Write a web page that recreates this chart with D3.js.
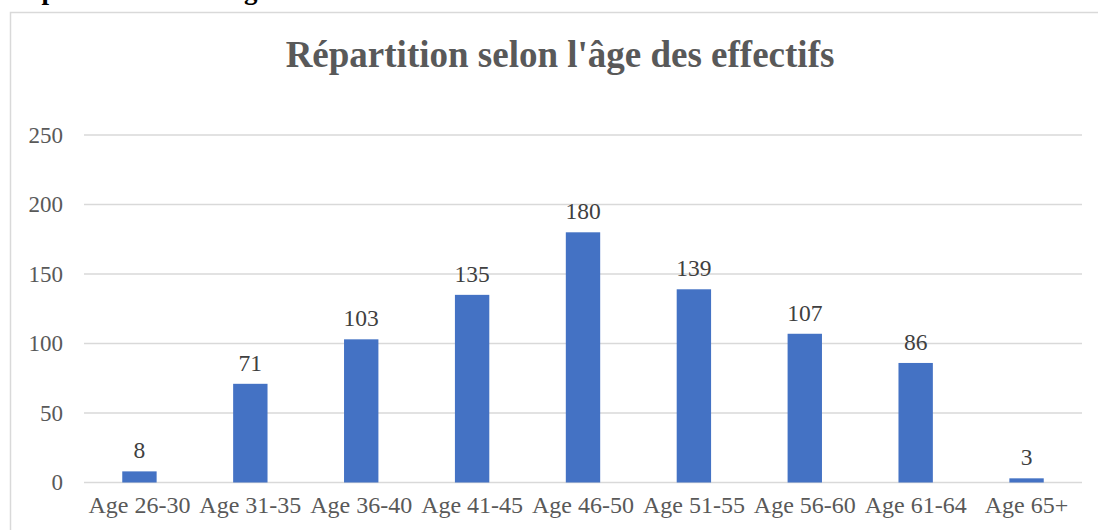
<!DOCTYPE html>
<html>
<head>
<meta charset="utf-8">
<script src="https://cdn.jsdelivr.net/npm/d3@7"></script>
<style>
  body { margin: 0; background: #fff; }
  svg { display: block; font-family: "Liberation Serif", "Times New Roman", serif; }
</style>
</head>
<body>
<div id="chart"></div>
<script>
// Data
const categories = ["Age 26-30", "Age 31-35", "Age 36-40", "Age 41-45", "Age 46-50",
                    "Age 51-55", "Age 56-60", "Age 61-64", "Age 65+"];
const values = [8, 71, 103, 135, 180, 139, 107, 86, 3];
const yTicks = [0, 50, 100, 150, 200, 250];

const width = 1098, height = 530;
const margin = { top: 135, right: 16, bottom: 47.5, left: 84 };

const svg = d3.select("#chart")
  .append("svg")
  .attr("width", width)
  .attr("height", height);

// cut-off caption line from the page above the chart
svg.append("text")
  .attr("x", 10)
  .attr("y", -1)
  .style("font-size", "27px")
  .style("font-weight", "bold")
  .style("fill", "#000")
  .text("Répartition selon l'âge");

// chart frame
svg.append("rect")
  .attr("x", 10.5)
  .attr("y", 12.5)
  .attr("width", 1100)
  .attr("height", 540)
  .attr("fill", "#fff")
  .attr("stroke", "#d9d9d9")
  .attr("stroke-width", 1.5);

svg.append("text")
  .attr("x", 560)
  .attr("y", 67)
  .attr("text-anchor", "middle")
  .style("font-size", "37px")
  .style("font-weight", "bold")
  .style("fill", "#595959")
  .text("Répartition selon l'âge des effectifs");

const x = d3.scaleBand()
  .domain(categories)
  .range([margin.left, width - margin.right])
  .paddingInner(0.69)
  .paddingOuter(0.345);

const y = d3.scaleLinear()
  .domain([0, 250])
  .range([height - margin.bottom, margin.top]);

// gridlines
svg.append("g")
  .selectAll("line")
  .data(yTicks)
  .join("line")
  .attr("x1", margin.left)
  .attr("x2", width - margin.right)
  .attr("y1", d => y(d))
  .attr("y2", d => y(d))
  .attr("stroke", "#d9d9d9")
  .attr("stroke-width", 1.5);

// y axis labels
const yAxis = svg.append("g")
  .attr("transform", "translate(" + (margin.left - 21) + ",0)")
  .call(d3.axisLeft(y).tickValues(yTicks).tickSize(0).tickPadding(0));
yAxis.select(".domain").remove();
yAxis.selectAll("text")
  .style("font-family", "Liberation Serif, serif")
  .style("font-size", "23px")
  .style("fill", "#595959");

// bars
svg.append("g")
  .selectAll("rect")
  .data(values)
  .join("rect")
  .attr("x", (d, i) => x(categories[i]))
  .attr("y", d => y(d))
  .attr("width", x.bandwidth())
  .attr("height", d => y(0) - y(d))
  .attr("fill", "#4472c4");

// value labels
svg.append("g")
  .selectAll("text")
  .data(values)
  .join("text")
  .attr("x", (d, i) => x(categories[i]) + x.bandwidth() / 2)
  .attr("y", d => y(d) - 13)
  .attr("text-anchor", "middle")
  .style("font-size", "23.5px")
  .style("fill", "#404040")
  .text(d => d);

// x axis labels
const xAxis = svg.append("g")
  .attr("transform", "translate(0," + y(0) + ")")
  .call(d3.axisBottom(x).tickSize(0).tickPadding(13));
xAxis.select(".domain").remove();
xAxis.selectAll("text")
  .style("font-family", "Liberation Serif, serif")
  .style("font-size", "24px")
  .style("fill", "#595959");
</script>
</body>
</html>
